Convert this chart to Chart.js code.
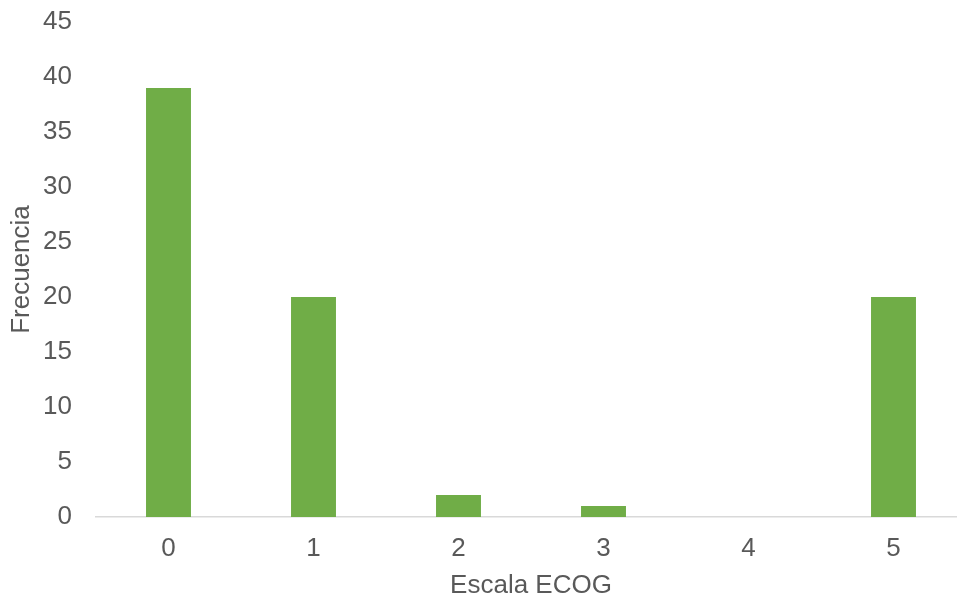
<!DOCTYPE html>
<html>
<head>
<meta charset="utf-8">
<script src="https://cdn.jsdelivr.net/npm/chart.js@4.4.1/dist/chart.umd.min.js"></script>
<style>
  html, body { margin: 0; padding: 0; background: #fff; overflow: hidden; }
  #wrap { width: 966px; height: 601px; }
</style>
</head>
<body>
<div id="wrap"><canvas id="chart" width="966" height="601"></canvas></div>
<script>
const categories = ['0', '1', '2', '3', '4', '5']
const frecuencia = [39, 20, 2, 1, 0, 20]
const yMax = 45
const yStep = 5

const txt = '#595959'
const font = { family: "'Liberation Sans', Arial, sans-serif", size: 26 }

const ctx = document.getElementById('chart').getContext('2d')

new Chart(ctx, {
    type: 'bar',
    data: {
        labels: categories,
        datasets: [{
            label: 'Frecuencia',
            data: frecuencia,
            backgroundColor: '#70AD47',
            barPercentage: 0.31,
            categoryPercentage: 1
        }]
    },
    options: {
        responsive: false,
        animation: false,
        layout: { padding: { top: 22, right: 0, bottom: 0, left: 0 } },
        plugins: {
            legend: { display: false },
            tooltip: { enabled: false }
        },
        scales: {
            x: {
                grid: { drawOnChartArea: false, drawTicks: false },
                border: { color: '#D9D9D9', width: 1.5 },
                ticks: { color: txt, font: font, padding: 16 },
                title: { display: true, text: 'Escala ECOG', color: txt, font: font, padding: 0 },
                afterFit: (s) => { s.height = 84; s.paddingLeft = 0; s.paddingRight = 0 }
            },
            y: {
                min: 0,
                max: yMax,
                grid: { display: false, drawTicks: false },
                border: { display: false },
                ticks: { stepSize: yStep, color: txt, font: font, padding: 24 },
                title: { display: true, text: 'Frecuencia', color: txt, font: font, padding: { top: 6, bottom: 0 } },
                afterFit: (s) => { s.width = 96; s.paddingTop = 0; s.paddingBottom = 0 }
            }
        }
    }
})
</script>
</body>
</html>
